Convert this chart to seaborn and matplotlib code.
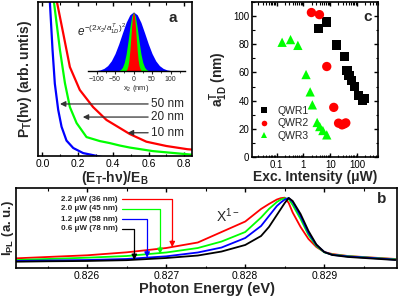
import numpy as np
import pandas as pd
import seaborn as sns
import matplotlib.pyplot as plt
from matplotlib.ticker import MultipleLocator, LogLocator, NullFormatter, NullLocator

# ---------------- panel a: P_T(hv) curves
a_x_50 = [0.038, 0.042, 0.057, 0.070, 0.089, 0.108, 0.136, 0.174, 0.230, 0.285, 0.350]
a_y_50 = [1.15, 1.00, 0.69, 0.47, 0.30, 0.19, 0.10, 0.052, 0.019, 0.006, -0.01]
a_x_20 = [0.057, 0.065, 0.099, 0.127, 0.155, 0.193, 0.249, 0.324, 0.380, 0.437, 0.493, 0.623, 0.831, 0.845]
a_y_20 = [1.15, 1.00, 0.688, 0.474, 0.318, 0.214, 0.123, 0.097, 0.084, 0.068, 0.055, 0.032, 0.010, 0.008]
a_x_10 = [0.072, 0.082, 0.117, 0.155, 0.211, 0.286, 0.362, 0.437, 0.493, 0.587, 0.700, 0.820, 0.845]
a_y_10 = [1.15, 1.00, 0.799, 0.578, 0.429, 0.318, 0.234, 0.182, 0.143, 0.093, 0.065, 0.044, 0.042]
a_labels = ["50 nm", "20 nm", "10 nm"]

# inset: wavefunction profiles
x2_blue = [-120, -110, -100, -90, -80, -70, -60, -50, -40, -30, -20, -10, 0,
           10, 20, 30, 40, 50, 60, 70, 80, 90, 100, 110, 120]
g_blue = [0.001, 0.003, 0.008, 0.019, 0.044, 0.091, 0.172, 0.295, 0.458, 0.644, 0.823, 0.952, 1.0,
          0.952, 0.823, 0.644, 0.458, 0.295, 0.172, 0.091, 0.044, 0.019, 0.008, 0.003, 0.001]
x2_green = [-40, -35, -30, -25, -20, -15, -10, -5, 0, 5, 10, 15, 20, 25, 30, 35, 40]
g_green = [0.007, 0.023, 0.062, 0.144, 0.29, 0.498, 0.734, 0.926, 1.0, 0.926, 0.734, 0.498, 0.29, 0.144, 0.062, 0.023, 0.007]
x2_red = [-20, -17.5, -15, -12.5, -10, -7.5, -5, -2.5, 0, 2.5, 5, 7.5, 10, 12.5, 15, 17.5, 20]
g_red = [0.013, 0.036, 0.088, 0.185, 0.339, 0.544, 0.763, 0.935, 1.0, 0.935, 0.763, 0.544, 0.339, 0.185, 0.088, 0.036, 0.013]

# ---------------- panel c: a1D vs excitation intensity
qwr1_p = [3.7, 7.4, 16.8, 33.5, 41.7, 50, 63, 80, 115, 163, 180]
qwr1_a = [91.2, 95.8, 79.4, 71.1, 61.4, 57.8, 54.4, 50.1, 43.7, 39.9, 41.6]
qwr2_p = [1.98, 3.96, 7.4, 13.5, 20.4, 27.5, 33.5, 38]
qwr2_a = [102.5, 101.0, 64.2, 35.2, 24.0, 22.8, 23.5, 24.2]
qwr3_p = [0.16, 0.33, 0.62, 1.25, 1.78, 2.15, 3.24, 4.05, 5.3, 7.4]
qwr3_a = [81.4, 83.3, 79.2, 58.5, 46.2, 37.0, 24.5, 21.6, 18.8, 15.7]

# ---------------- panel b: PL spectra
energy = [0.8251, 0.8255, 0.8260, 0.8265, 0.8270, 0.8274, 0.8277, 0.8280, 0.8282, 0.8283,
          0.8284, 0.82845, 0.8285, 0.82855, 0.8286, 0.8287, 0.8288, 0.8289, 0.8290, 0.8291,
          0.8293, 0.8296, 0.8299]
pl_22 = [0.121, 0.138, 0.159, 0.196, 0.250, 0.319, 0.450, 0.581, 0.738, 0.800, 0.856, 0.873,
         0.879, 0.813, 0.694, 0.513, 0.363, 0.263, 0.200, 0.175, 0.150, 0.131, 0.113]
pl_20 = [0.100, 0.113, 0.129, 0.150, 0.194, 0.250, 0.331, 0.450, 0.631, 0.738, 0.825, 0.855,
         0.872, 0.862, 0.788, 0.613, 0.413, 0.275, 0.196, 0.169, 0.148, 0.128, 0.109]
pl_12 = [0.088, 0.094, 0.100, 0.113, 0.146, 0.194, 0.256, 0.375, 0.525, 0.650, 0.775, 0.819,
         0.856, 0.875, 0.825, 0.650, 0.438, 0.288, 0.200, 0.165, 0.144, 0.125, 0.104]
pl_06 = [0.079, 0.084, 0.088, 0.098, 0.125, 0.156, 0.206, 0.288, 0.400, 0.513, 0.663, 0.738,
         0.813, 0.875, 0.838, 0.675, 0.463, 0.294, 0.200, 0.163, 0.138, 0.119, 0.100]
pl_labels = ["2.2 \u03bcW (36 nm)", "2.0 \u03bcW (45 nm)", "1.2 \u03bcW (58 nm)", "0.6 \u03bcW (78 nm)"]
arrow_x = [0.827077, 0.826923, 0.826759, 0.826597]
arrow_tip = [0.26, 0.175, 0.129, 0.10]
arrow_row = [0.86, 0.74, 0.61, 0.49]

sns.set_theme(style="ticks")
plt.rcParams['font.family'] = ['Liberation Sans', 'DejaVu Sans']
plt.rcParams['mathtext.fontset'] = 'custom'
plt.rcParams['mathtext.it'] = 'Liberation Sans:italic'
plt.rcParams['mathtext.rm'] = 'Liberation Sans'
plt.rcParams['mathtext.default'] = 'regular'
plt.rcParams['axes.linewidth'] = 1.2
plt.rcParams['axes.edgecolor'] = 'black'

BLUE, GREEN, RED = '#0000FF', '#00FF00', '#FF0000'

fig = plt.figure(figsize=(3.98, 2.97), dpi=100)


def style_ticks(ax, size=7.5):
    ax.tick_params(which='both', direction='in', top=True, labelsize=size, pad=2, colors='black')
    ax.tick_params(which='major', length=3, width=1)
    ax.tick_params(which='minor', length=1.8, width=0.8)


# ===== panel a
axa = fig.add_axes([0.0955, 0.4747, 0.387, 0.5185])
df_a = pd.concat([
    pd.DataFrame({'x': a_x_50, 'y': a_y_50, 'a': '50 nm'}),
    pd.DataFrame({'x': a_x_20, 'y': a_y_20, 'a': '20 nm'}),
    pd.DataFrame({'x': a_x_10, 'y': a_y_10, 'a': '10 nm'}),
])
sns.lineplot(data=df_a, x='x', y='y', hue='a', palette={'50 nm': BLUE, '20 nm': GREEN, '10 nm': RED},
             estimator=None, lw=1.6, legend=False, ax=axa)
axa.set_xlim(-0.025, 0.845)
axa.set_ylim(0, 1.0)
axa.xaxis.set_major_locator(MultipleLocator(0.2))
axa.xaxis.set_minor_locator(MultipleLocator(0.1))
axa.yaxis.set_major_locator(NullLocator())
style_ticks(axa)
axa.set_xlabel("(E$_T$-h\u03bd)/E$_B$", fontsize=10, fontweight='bold', labelpad=0)
axa.set_ylabel("P$_T$(h\u03bd) (arb. untis)", fontsize=10, fontweight='bold', labelpad=3)
axa.text(0.874, 0.899, "a", transform=axa.transAxes, fontsize=11, fontweight='bold', ha='center', va='center')

for lab, ty, tip in zip(a_labels, [0.338, 0.253, 0.151], [0.099, 0.228, 0.482]):
    axa.annotate("", xy=(tip, ty), xytext=(0.597, ty),
                 arrowprops=dict(arrowstyle='-|>', color='#333333', lw=0.9, mutation_scale=8,
                                 shrinkA=0, shrinkB=0))
    axa.text(0.611, ty, lab, fontsize=8.5, va='center', ha='left')

# inset
axi = fig.add_axes([0.2211, 0.761, 0.2437, 0.1987])
axi.fill_between(x2_blue, g_blue, color=BLUE, lw=0)
axi.fill_between(x2_green, g_green, color=GREEN, lw=0)
axi.fill_between(x2_red, g_red, color=RED, lw=0)
axi.set_xlim(-123, 139)
axi.set_ylim(0, 1.0)
axi.patch.set_alpha(0)
for s in ['top', 'right', 'left']:
    axi.spines[s].set_visible(False)
axi.spines['bottom'].set_linewidth(1.0)
axi.yaxis.set_major_locator(NullLocator())
axi.xaxis.set_major_locator(MultipleLocator(50))
axi.xaxis.set_minor_locator(MultipleLocator(25))
axi.tick_params(which='both', direction='out', labelsize=5, pad=1)
axi.tick_params(which='major', length=2.5, width=0.8)
axi.tick_params(which='minor', length=1.5, width=0.6)
axi.set_xlabel("x$_2$ (nm)", fontsize=5.5, labelpad=0)
axa.text(0.255, 0.815, r"$\mathit{e}^{\mathit{-(2x_2/a^T_{1D})^2}}$", transform=axa.transAxes,
         fontsize=8.5, ha='left', va='center')

# ===== panel c
axc = fig.add_axes([0.633, 0.4714, 0.3166, 0.522])
df_c = pd.concat([
    pd.DataFrame({'p': qwr1_p, 'a': qwr1_a, 'wire': 'QWR1'}),
    pd.DataFrame({'p': qwr2_p, 'a': qwr2_a, 'wire': 'QWR2'}),
    pd.DataFrame({'p': qwr3_p, 'a': qwr3_a, 'wire': 'QWR3'}),
])
sns.scatterplot(data=df_c, x='p', y='a', hue='wire', style='wire',
                palette={'QWR1': 'black', 'QWR2': RED, 'QWR3': GREEN},
                markers={'QWR1': 's', 'QWR2': 'o', 'QWR3': '^'}, s=45, linewidth=0, ax=axc)
axc.set_xscale('log')
axc.set_xlim(0.012, 600)
axc.set_ylim(0, 110)
axc.set_xticks([0.1, 1, 10, 100])
axc.set_xticklabels(['0.1', '1', '10', '100'])
axc.xaxis.set_minor_locator(LogLocator(base=10, subs=np.arange(2, 10)))
axc.xaxis.set_minor_formatter(NullFormatter())
axc.yaxis.set_major_locator(MultipleLocator(20))
axc.yaxis.set_minor_locator(MultipleLocator(10))
style_ticks(axc, 7)
axc.tick_params(which='both', right=True)
axc.set_xlabel("Exc. Intensity (\u03bcW)", fontsize=10, fontweight='bold', labelpad=0)
axc.set_ylabel("a$^T_{1D}$ (nm)", fontsize=10, fontweight='bold', labelpad=2)
axc.text(0.92, 0.903, "c", transform=axc.transAxes, fontsize=11, fontweight='bold', ha='center', va='center')
h, l = axc.get_legend_handles_labels()
axc.legend(h, l, loc='upper left', bbox_to_anchor=(-0.04, 0.37), frameon=False, fontsize=7.5,
           markerscale=0.6, handletextpad=0.3, labelspacing=0.25, borderaxespad=0.2)

# ===== panel b
axb = fig.add_axes([0.0402, 0.0976, 0.9573, 0.2694])
df_b = pd.DataFrame({'E': energy * 4,
                     'I': pl_22 + pl_20 + pl_12 + pl_06,
                     'P': sum([[lab] * len(energy) for lab in pl_labels], [])})
pal_b = dict(zip(pl_labels, [RED, GREEN, BLUE, 'black']))
sns.lineplot(data=df_b, x='E', y='I', hue='P', palette=pal_b, estimator=None, lw=1.3,
             legend=False, ax=axb)
axb.set_xlim(0.8251, 0.82992)
axb.set_ylim(0, 1.0)
axb.xaxis.set_major_locator(MultipleLocator(0.001))
axb.xaxis.set_minor_locator(MultipleLocator(0.0005))
axb.xaxis.set_major_formatter(plt.FormatStrFormatter('%.3f'))
axb.yaxis.set_major_locator(NullLocator())
style_ticks(axb)
axb.set_xlabel("Photon Energy (eV)", fontsize=10.5, fontweight='bold', labelpad=1)
axb.set_ylabel("I$_{PL}$ (a. u.)", fontsize=9.5, fontweight='bold', labelpad=0)
axb.text(0.96, 0.8625, "b", transform=axb.transAxes, fontsize=11, fontweight='bold', ha='center', va='center')
axb.text(0.82778, 0.66, "X$^{1-}$", fontsize=10, ha='center', va='center')

for lab, col, ax_, tip, row in zip(pl_labels, [RED, GREEN, BLUE, 'black'], arrow_x, arrow_tip, arrow_row):
    axb.text(0.826388, row, lab, fontsize=5.8, fontweight='bold', ha='right', va='center')
    axb.plot([0.826439, ax_, ax_], [row, row, tip + 0.08], color=col, lw=0.9)
    axb.annotate("", xy=(ax_, tip), xytext=(ax_, tip + 0.09),
                 arrowprops=dict(arrowstyle='-|>', color=col, lw=0.9, mutation_scale=8,
                                 shrinkA=0, shrinkB=0))

fig.savefig('out.png', dpi=100)
